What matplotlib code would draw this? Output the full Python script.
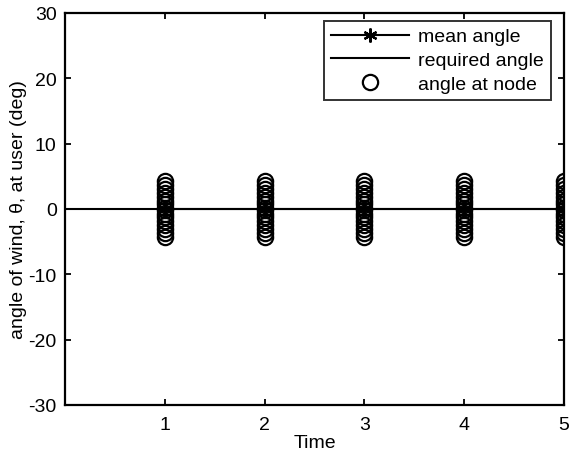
import matplotlib
matplotlib.use("Agg")
import matplotlib.pyplot as plt
import numpy as np

plt.rcParams['font.family'] = ['Liberation Sans', 'DejaVu Sans']
plt.rcParams['axes.unicode_minus'] = False

times = [1, 2, 3, 4, 5]
node_angles = [-4.3, -3.7, -3.1, -2.5, -1.9, -1.3, -0.7, -0.2,
               0.2, 0.7, 1.3, 1.9, 2.5, 3.1, 3.7, 4.3]
mean_angles = [0, 0, 0, 0, 0]
required_x = [0, 5]
required_angle = [0, 0]

fig = plt.figure(figsize=(5.72, 4.56), dpi=100)
ax = fig.add_axes([65/572, 1-406/456, (564-65)/572, (406-14)/456])

ax.plot(times, mean_angles, color='black', marker=(6, 2, 0), markersize=10, mew=1.6,
        lw=1.5, label='mean angle')
ax.plot(required_x, required_angle, color='black', lw=1.5, label='required angle')
for t in times:
    ax.plot([t]*len(node_angles), node_angles, linestyle='none', marker='o',
            markerfacecolor='none', markeredgecolor='black', markersize=11, mew=1.6,
            label='angle at node' if t == 1 else None)

ax.set_xlim(0, 5)
ax.set_ylim(-30, 30)
ax.set_xticks([1, 2, 3, 4, 5])
ax.set_yticks([-30, -20, -10, 0, 10, 20, 30])
ax.tick_params(direction='in', labelsize=14, width=1.3, length=4, top=True, right=True)
ax.tick_params(axis='x', pad=8)
ax.tick_params(axis='y', pad=6)
for s in ax.spines.values():
    s.set_linewidth(1.6)
ax.set_xlabel('Time', fontsize=14, labelpad=1)
ax.set_ylabel('angle of wind, θ, at user (deg)', fontsize=14, labelpad=1)

leg = ax.legend(loc='upper right', bbox_to_anchor=(551/572, 1-22/456),
                bbox_transform=fig.transFigure, borderaxespad=0,
                fontsize=14, frameon=True, fancybox=False,
                edgecolor='black', handlelength=4.0, borderpad=0.35, labelspacing=0.32,
                handletextpad=0.5)
leg.get_frame().set_linewidth(1.4)

fig.savefig('out.png', dpi=100)
